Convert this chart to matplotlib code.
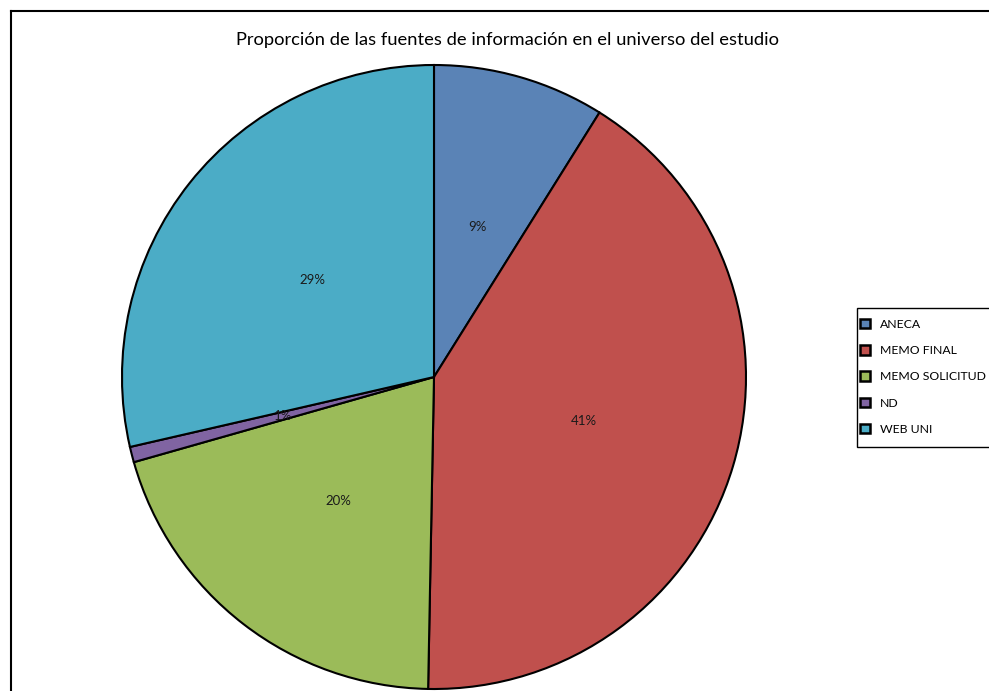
import numpy as np
import matplotlib
matplotlib.use('Agg')
import matplotlib.pyplot as plt
from matplotlib.lines import Line2D
from matplotlib.patches import Rectangle

# data (percent of the study universe)
fuentes = ['ANECA', 'MEMO FINAL', 'MEMO SOLICITUD', 'ND', 'WEB UNI']
porcentaje = [8.9, 41.4, 20.3, 0.8, 28.6]
colores = ['#5A83B6', '#C0504D', '#9BBB59', '#8064A2', '#4BACC6']

plt.rcParams['font.family'] = ['Lato', 'DejaVu Sans']

W, H = 989, 691
fig = plt.figure(figsize=(W/100, H/100), dpi=100)

# outer frame (cut off on the right and bottom)
fig.add_artist(Line2D([11/W, 11/W], [0, 1-11/H], transform=fig.transFigure, color='black', lw=1.5))
fig.add_artist(Line2D([11/W, 1], [1-11/H, 1-11/H], transform=fig.transFigure, color='black', lw=1.5))

# pie centre ~ (434, 377) px, radius ~ 312 px
cx, cy, r = 434, 377, 312
ax = fig.add_axes([(cx-r)/W, (H-cy-r)/H, 2*r/W, 2*r/H])
wedges, texts, autotexts = ax.pie(porcentaje, colors=colores, startangle=90, counterclock=False,
                                  autopct='%1.0f%%', pctdistance=0.5,
                                  wedgeprops=dict(edgecolor='black', linewidth=1.5))
for t in autotexts:
    t.set_fontsize(9.5)
    t.set_color('#1a1a1a')
ax.set_xlim(-1, 1)
ax.set_ylim(-1, 1)
ax.set_aspect('equal')
ax.axis('off')

fig.text(507/W, 1-40/H, 'Proporción de las fuentes de información en el universo del estudio',
         ha='center', va='center', fontsize=13.2)

# legend box drawn separately so its padding can differ from the entries
fig.add_artist(Rectangle((857/W, 1-447/H), 150/W, 139/H, transform=fig.transFigure,
                         facecolor='white', edgecolor='black', lw=1.0, zorder=2))
handles = [plt.Rectangle((0, 0), 1, 1, facecolor=c, edgecolor='black', lw=1.8) for c in colores]
leg = fig.legend(handles, fuentes, loc='upper left', bbox_to_anchor=(858/W, 1-317/H),
                 fontsize=8.8, frameon=False,
                 handlelength=0.8, handleheight=0.8, handletextpad=0.85,
                 labelspacing=1.25, borderpad=0.15, borderaxespad=0)
leg.set_zorder(3)

fig.savefig('out.png', dpi=100)
